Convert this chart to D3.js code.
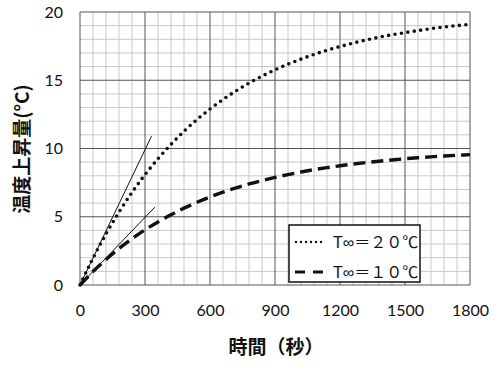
<!DOCTYPE html>
<html>
<head>
<meta charset="utf-8">
<script src="https://cdn.jsdelivr.net/npm/d3@7"></script>
<style>
  body { margin: 0; background: #fff; }
  svg { display: block; }
</style>
</head>
<body>
<div id="chart"></div>
<script>
// time (s) and temperature rise (°C)
const times = [0, 60, 120, 180, 240, 300, 360, 420, 480, 540, 600, 660, 720, 780, 840, 900,
    960, 1020, 1080, 1140, 1200, 1260, 1320, 1380, 1440, 1500, 1560, 1620, 1680, 1740, 1800];
const rise20 = [0, 1.97, 3.74, 5.34, 6.78, 8.08, 9.25, 10.3, 11.26, 12.12, 12.89, 13.59, 14.22,
    14.79, 15.3, 15.76, 16.18, 16.55, 16.89, 17.2, 17.47, 17.72, 17.95, 18.15, 18.33, 18.49,
    18.64, 18.78, 18.9, 19.0, 19.1];
const rise10 = [0, 0.99, 1.87, 2.67, 3.39, 4.04, 4.62, 5.15, 5.63, 6.06, 6.45, 6.8, 7.11,
    7.4, 7.65, 7.88, 8.09, 8.28, 8.45, 8.6, 8.74, 8.86, 8.97, 9.07, 9.16, 9.25, 9.32, 9.39,
    9.45, 9.5, 9.55];
// initial tangent lines
const tangent20 = [[0, 0], [330, 10.9]];
const tangent10 = [[0, 0], [345, 5.7]];

const xTicks = [0, 300, 600, 900, 1200, 1500, 1800];
const yTicks = [0, 5, 10, 15, 20];
const legendLabels = ["T∞＝２０℃", "T∞＝１０℃"];

const width = 500;
const height = 370;
const margin = { left: 80, right: 30, top: 12, bottom: 85 };

const x = d3.scaleLinear().domain([0, 1800]).range([margin.left, width - margin.right]);
const y = d3.scaleLinear().domain([0, 20]).range([height - margin.bottom, margin.top]);

const svg = d3.select("#chart").append("svg")
    .attr("width", width)
    .attr("height", height);

// minor grid
const minorX = d3.range(0, 1801, 60).filter((d) => d % 300 !== 0);
const minorY = d3.range(0, 21, 1).filter((d) => d % 5 !== 0);

svg.append("g").selectAll("line")
    .data(minorX)
    .join("line")
    .attr("x1", (d) => x(d)).attr("x2", (d) => x(d))
    .attr("y1", y(0)).attr("y2", y(20))
    .attr("stroke", "#c8c8c8").attr("stroke-width", 1);

svg.append("g").selectAll("line")
    .data(minorY)
    .join("line")
    .attr("x1", x(0)).attr("x2", x(1800))
    .attr("y1", (d) => y(d)).attr("y2", (d) => y(d))
    .attr("stroke", "#c8c8c8").attr("stroke-width", 1);

// major grid
svg.append("g").selectAll("line")
    .data(xTicks)
    .join("line")
    .attr("x1", (d) => x(d)).attr("x2", (d) => x(d))
    .attr("y1", y(0)).attr("y2", y(20))
    .attr("stroke", "#555").attr("stroke-width", 1);

svg.append("g").selectAll("line")
    .data(yTicks)
    .join("line")
    .attr("x1", x(0)).attr("x2", x(1800))
    .attr("y1", (d) => y(d)).attr("y2", (d) => y(d))
    .attr("stroke", "#555").attr("stroke-width", 1);

// axes labels via d3 axes, no lines
const xAxis = svg.append("g")
    .attr("transform", `translate(0,${y(0)})`)
    .call(d3.axisBottom(x).tickValues(xTicks).tickFormat(d3.format("d")).tickSize(0).tickPadding(20));
const yAxis = svg.append("g")
    .attr("transform", `translate(${x(0)},0)`)
    .call(d3.axisLeft(y).tickValues(yTicks).tickSize(0).tickPadding(17));

[xAxis, yAxis].forEach((a) => {
    a.select(".domain").remove();
    a.selectAll("text")
        .style("font-family", "Lato, 'Open Sans', sans-serif")
        .style("font-size", "16px")
        .attr("fill", "#111");
});

// tangent lines
const line = d3.line().x((d) => x(d[0])).y((d) => y(d[1]));
[tangent20, tangent10].forEach((t) => {
    svg.append("path")
        .attr("d", line(t))
        .attr("fill", "none")
        .attr("stroke", "#111")
        .attr("stroke-width", 1);
});

// curves
const curve = d3.line()
    .x((d, i) => x(times[i]))
    .y((d) => y(d))
    .curve(d3.curveMonotoneX);

svg.append("path")
    .attr("d", curve(rise20))
    .attr("fill", "none")
    .attr("stroke", "#111")
    .attr("stroke-width", 3.6)
    .attr("stroke-linecap", "round")
    .attr("stroke-dasharray", "0,6.5");

svg.append("path")
    .attr("d", curve(rise10))
    .attr("fill", "none")
    .attr("stroke", "#111")
    .attr("stroke-width", 3.4)
    .attr("stroke-dasharray", "12,6");

// legend
const legend = svg.append("g").attr("transform", "translate(289,225)");
legend.append("rect")
    .attr("width", 131).attr("height", 57)
    .attr("fill", "#fff")
    .attr("stroke", "#111")
    .attr("stroke-width", 1.5);

legend.append("line")
    .attr("x1", 7).attr("x2", 36)
    .attr("y1", 17).attr("y2", 17)
    .attr("stroke", "#111").attr("stroke-width", 2.4)
    .attr("stroke-linecap", "round")
    .attr("stroke-dasharray", "0,5");
legend.append("line")
    .attr("x1", 6).attr("x2", 36)
    .attr("y1", 47).attr("y2", 47)
    .attr("stroke", "#111").attr("stroke-width", 3)
    .attr("stroke-dasharray", "10,8");

legend.selectAll("text")
    .data(legendLabels)
    .join("text")
    .attr("x", 44)
    .attr("y", (d, i) => 17 + i * 30)
    .attr("dy", "0.35em")
    .style("font-family", "'Liberation Sans', 'Noto Sans CJK JP', sans-serif")
    .style("font-size", "16px")
    .attr("fill", "#111")
    .text((d) => d);

// titles
svg.append("text")
    .attr("x", 276)
    .attr("y", 347)
    .attr("dy", "0.35em")
    .attr("text-anchor", "middle")
    .style("font-family", "'Noto Sans CJK JP', sans-serif")
    .style("font-size", "19px")
    .style("font-weight", "bold")
    .attr("fill", "#111")
    .text("時間（秒）");

svg.append("text")
    .attr("transform", "translate(22,149) rotate(-90)")
    .attr("dy", "0.35em")
    .attr("text-anchor", "middle")
    .style("font-family", "'Noto Sans CJK JP', sans-serif")
    .style("font-size", "19px")
    .style("font-weight", "bold")
    .attr("fill", "#111")
    .text("温度上昇量(°C)");
</script>
</body>
</html>
